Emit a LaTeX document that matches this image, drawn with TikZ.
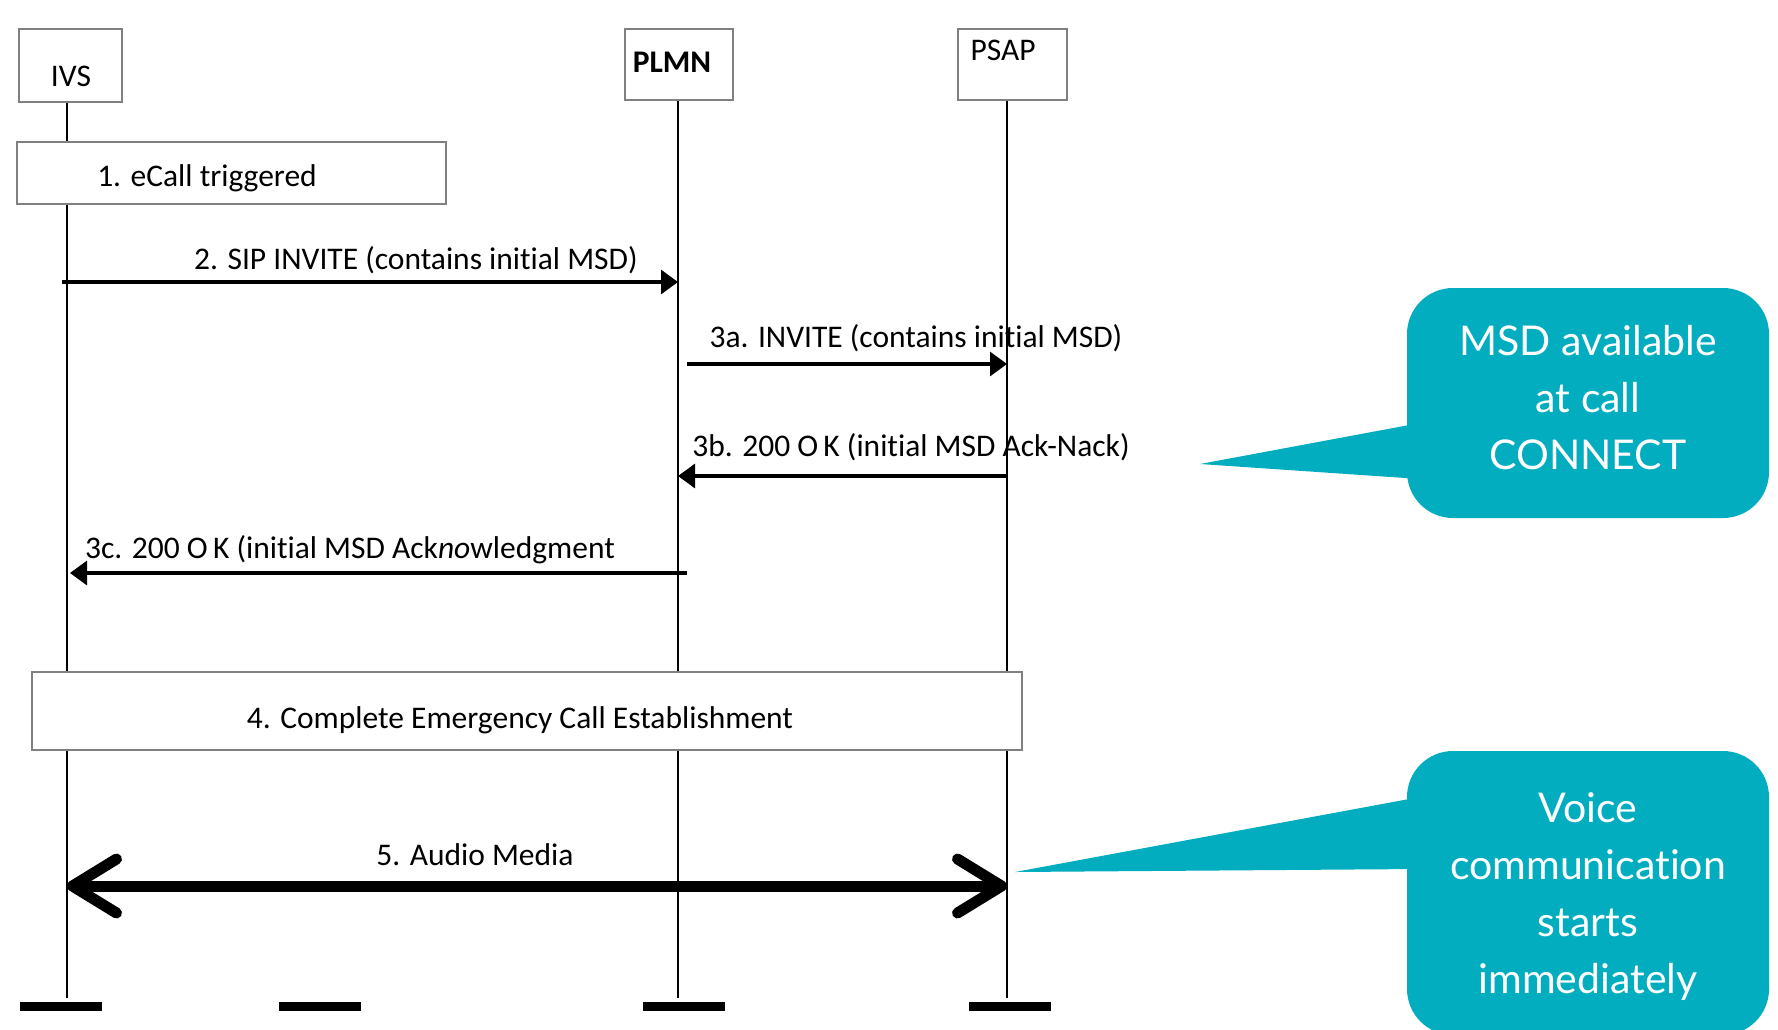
\documentclass[tikz,border=0pt]{standalone}
\usepackage{fontspec}
\setmainfont{Carlito}[Ligatures={NoCommon}]
\newfontfamily\callfont{Lato}[Ligatures={NoCommon}]
\usetikzlibrary{arrows.meta}
\definecolor{callteal}{RGB}{3,173,192}
\definecolor{boxgray}{RGB}{128,128,128}
\begin{document}
\begin{tikzpicture}[x=1pt,y=-1pt,
  actorbox/.style={draw=boxgray,line width=1.4pt,fill=white,inner sep=0pt},
  stepbox/.style={draw=boxgray,line width=1.4pt,fill=white,inner sep=0pt},
  lifeline/.style={draw=black,line width=1.6pt},
  msg/.style={draw=black,line width=3.2pt,-{Triangle[length=17pt,width=24pt]}},
  media/.style={draw=black,line width=11pt,{Straight Barb[length=44pt,width=54pt,round]}-{Straight Barb[length=44pt,width=54pt,round]}},
  lbl/.style={inner sep=0pt,font=\fontsize{31.5}{36}\selectfont},
  endbar/.style={fill=black,draw=none,inner sep=0pt,minimum height=9pt,minimum width=82pt},
  callbox/.style={fill=callteal,draw=none,rounded corners=46pt,inner sep=0pt},
  calltext/.style={text=white,align=center,inner sep=0pt,font=\callfont\fontsize{41}{57}\selectfont},
]
\useasboundingbox (0,0) rectangle (1778,1029);
\fill[white] (0,0) rectangle (1778,1029);

% lifelines
\coordinate (ivsT) at (67,102);  \coordinate (ivsB) at (67,998);
\coordinate (plmnT) at (678,100); \coordinate (plmnB) at (678,998);
\coordinate (psapT) at (1007,100); \coordinate (psapB) at (1007,998);
\draw[lifeline] (ivsT) -- (ivsB);
\draw[lifeline] (plmnT) -- (plmnB);
\draw[lifeline] (psapT) -- (psapB);

% actor boxes
\node[actorbox,minimum width=103pt,minimum height=73pt] (ivsbox) at (70.5,65.5) {};
\node[actorbox,minimum width=108pt,minimum height=71pt] (plmnbox) at (679,64.5) {};
\node[actorbox,minimum width=109pt,minimum height=71pt] (psapbox) at (1012.5,64.5) {};
\node[lbl] (ivs) at (71,76) {IVS};
\node[lbl,font=\fontsize{31.5}{36}\selectfont\bfseries] (plmn) at (672,62) {PLMN};
\node[lbl] (psap) at (1003,50) {PSAP};

% step 1
\node[stepbox,minimum width=429pt,minimum height=62pt] (s1) at (231.5,173) {};
\node[lbl] (s1t) at (207,178) {1. eCall triggered};

% message 2
\coordinate (m2s) at (62,282); \coordinate (m2e) at (678,282);
\draw[msg] (m2s) -- (m2e);
\node[lbl] (l2) at (416,260) {2. SIP INVITE (contains initial MSD)};

% message 3a
\coordinate (m3as) at (687,364); \coordinate (m3ae) at (1007,364);
\draw[msg] (m3as) -- (m3ae);
\node[lbl] (l3a) at (916,338) {3a. INVITE (contains initial MSD)};

% message 3b
\coordinate (m3bs) at (1007,476); \coordinate (m3be) at (678,476);
\draw[msg] (m3bs) -- (m3be);
\node[lbl] (l3b) at (911,447) {3b. 200 O\,K (initial MSD Ack-Nack)};

% message 3c
\coordinate (m3cs) at (687,573); \coordinate (m3ce) at (70,573);
\draw[msg] (m3cs) -- (m3ce);
\node[lbl] (l3c) at (350,550) {3c. 200 O\,K (initial MSD Ack\textit{no}wledgment};

% step 4
\node[stepbox,minimum width=990pt,minimum height=78pt] (s4) at (527,711) {};
\node[lbl] (s4t) at (520,720) {4. Complete Emergency Call Establishment};

% media 5
\coordinate (m5s) at (67,886); \coordinate (m5e) at (1007,886);
\draw[media] (m5s) -- (m5e);
\node[lbl] (l5) at (475,855) {5. Audio Media};

% end bars
\node[endbar] (b1) at (61,1006) {};
\node[endbar] (b2) at (320,1006) {};
\node[endbar] (b3) at (684,1006) {};
\node[endbar] (b4) at (1010,1006) {};

% callout 1
\node[callbox,minimum width=362pt,minimum height=230pt] (c1) at (1588,403) {};
\coordinate (c1tip) at (1200,464);
\fill[callteal] (c1tip) -- (1420,423) -- (1420,479) -- cycle;
\node[calltext] (c1t) at (1588,398) {MSD available\\at call\\CONNECT};

% callout 2
\node[callbox,minimum width=362pt,minimum height=284pt] (c2) at (1588,893) {};
\coordinate (c2tip) at (1015,872);
\fill[callteal] (c2tip) -- (1420,797) -- (1420,869) -- cycle;
\node[calltext] (c2t) at (1588,897) {Voice\\communication\\starts\\immediately};
\end{tikzpicture}
\end{document}
